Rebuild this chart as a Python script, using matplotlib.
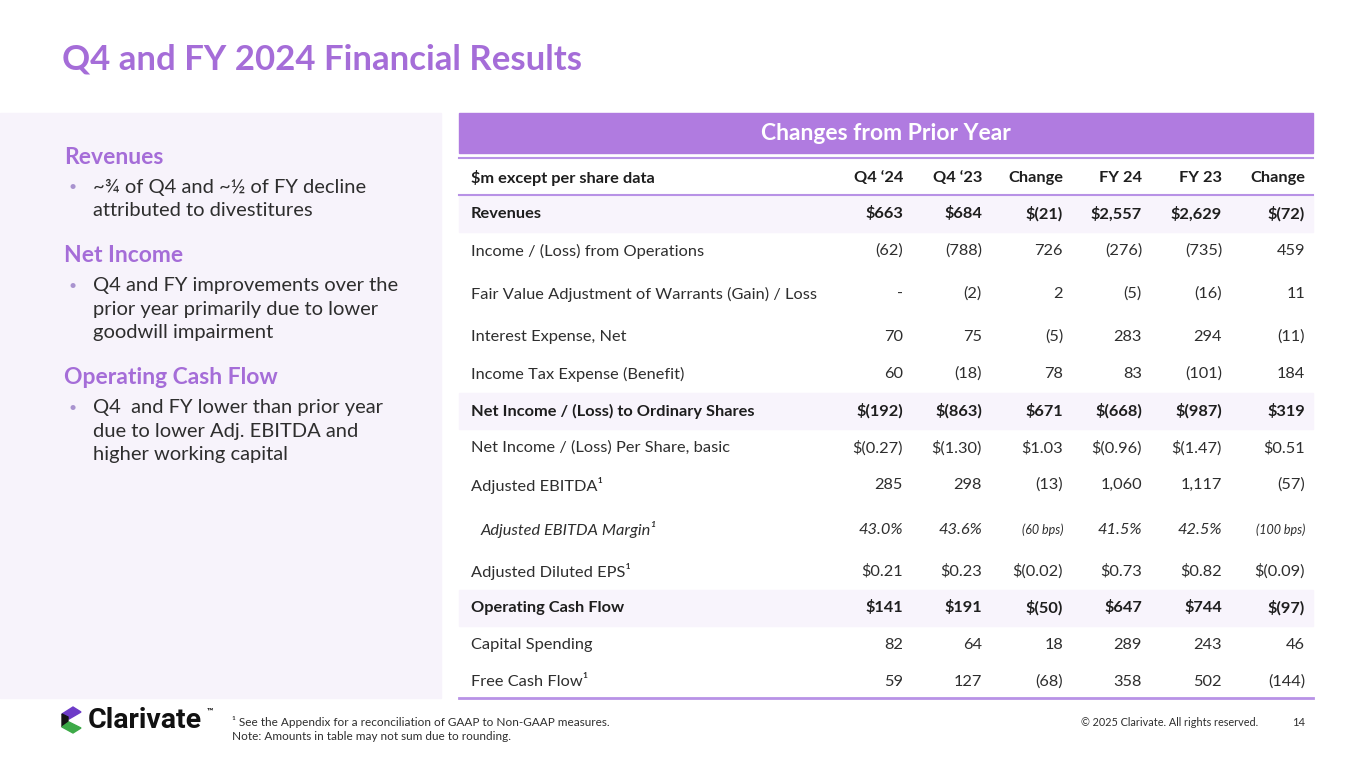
import matplotlib.pyplot as plt
from matplotlib.patches import Rectangle, Polygon

plt.rcParams['font.family'] = ['Lato', 'DejaVu Sans']

# table data
row_labels = ['Revenues', 'Income / (Loss) from Operations',
              'Fair Value Adjustment of Warrants (Gain) / Loss',
              'Interest Expense, Net', 'Income Tax Expense (Benefit)',
              'Net Income / (Loss) to Ordinary Shares',
              'Net Income / (Loss) Per Share, basic',
              'Adjusted EBITDA¹', 'Adjusted EBITDA Margin¹',
              'Adjusted Diluted EPS¹', 'Operating Cash Flow',
              'Capital Spending', 'Free Cash Flow¹']
q4_24 = ['$663', '(62)', '-', '70', '60', '$(192)', '$(0.27)', '285', '43.0%',
         '$0.21', '$141', '82', '59']
q4_23 = ['$684', '(788)', '(2)', '75', '(18)', '$(863)', '$(1.30)', '298', '43.6%',
         '$0.23', '$191', '64', '127']
q4_chg = ['$(21)', '726', '2', '(5)', '78', '$671', '$1.03', '(13)', '(60 bps)',
          '$(0.02)', '$(50)', '18', '(68)']
fy_24 = ['$2,557', '(276)', '(5)', '283', '83', '$(668)', '$(0.96)', '1,060', '41.5%',
         '$0.73', '$647', '289', '358']
fy_23 = ['$2,629', '(735)', '(16)', '294', '(101)', '$(987)', '$(1.47)', '1,117', '42.5%',
         '$0.82', '$744', '243', '502']
fy_chg = ['$(72)', '459', '11', '(11)', '184', '$319', '$0.51', '(57)', '(100 bps)',
          '$(0.09)', '$(97)', '46', '(144)']
col_headers = ['$m except per share data', 'Q4 \u201824', 'Q4 \u201823', 'Change',
               'FY 24', 'FY 23', 'Change']
bold_rows = [0, 5, 10]
italic_rows = [8]

sections = [
    ('Revenues', ['~¾ of Q4 and ~½ of FY decline', 'attributed to divestitures']),
    ('Net Income', ['Q4 and FY improvements over the', 'prior year primarily due to lower',
                    'goodwill impairment']),
    ('Operating Cash Flow', ['Q4  and FY lower than prior year', 'due to lower Adj. EBITDA and',
                             'higher working capital']),
]

PURPLE = '#A56DD8'
BAND = '#B07BE0'
LINE = '#B892E6'
SHADE = '#F8F4FC'
TXT = '#2E2E2E'

fig = plt.figure(figsize=(13.65, 7.66), dpi=100)
ax = fig.add_axes([0, 0, 1, 1])
ax.set_xlim(0, 1365)
ax.set_ylim(766, 0)
ax.axis('off')

ax.text(62, 59, 'Q4 and FY 2024 Financial Results', color=PURPLE, fontsize=25,
        fontweight='bold', va='center', ha='left')

# left panel
ax.add_patch(Rectangle((0, 113), 441, 585, color='#F7F3FB', zorder=0))
y = 157
for head, lines in sections:
    ax.text(64, y, head, color=PURPLE, fontsize=16.5, fontweight='bold', va='center')
    y += 30
    ax.text(68, y, '•', color='#A993CF', fontsize=10, va='center')
    for ln in lines:
        ax.text(93, y, ln, color=TXT, fontsize=14.5, va='center')
        y += 23.5
    y += 21.5

# table
x0, x1 = 459, 1313
ax.add_patch(Rectangle((x0, 113), x1 - x0, 40, color=BAND, zorder=1))
ax.text((x0 + x1) / 2, 133, 'Changes from Prior Year', color='white', fontsize=16.5,
        fontweight='bold', ha='center', va='center')
ax.plot([x0, x1], [158, 158], color=LINE, lw=1.5)
ax.plot([x0, x1], [195, 195], color=LINE, lw=1.5)
ax.plot([x0, x1], [698, 698], color=LINE, lw=2)

col_x = [471, 903, 982, 1063, 1142, 1222, 1305]
for i, h in enumerate(col_headers):
    ax.text(col_x[i], 178, h, fontsize=11.8, fontweight='bold', color='#1E1E1E',
            ha='left' if i == 0 else 'right', va='center')

row_y = [214, 251, 294, 337, 374, 411, 448, 485, 530, 571, 608, 645, 682]
columns = [q4_24, q4_23, q4_chg, fy_24, fy_23, fy_chg]
for r, lab in enumerate(row_labels):
    yy = row_y[r]
    bold = r in bold_rows
    ital = r in italic_rows
    if bold:
        ax.add_patch(Rectangle((x0, yy - 18), x1 - x0, 36, color=SHADE, zorder=0.5))
    fw = 'bold' if bold else 'normal'
    fs = 'italic' if ital else 'normal'
    col = '#1E1E1E' if bold else TXT
    ax.text(col_x[0] + (10 if ital else 0), yy, lab, fontsize=11.8, fontweight=fw,
            fontstyle=fs, color=col, va='center')
    for c, vals in enumerate(columns):
        size = 9 if ital and c in (2, 5) else 11.8
        ax.text(col_x[c + 1], yy, vals[r], fontsize=size, fontweight=fw, fontstyle=fs,
                color=col, ha='right', va='center')

# footer logo
ax.add_patch(Polygon([[62, 714], [73, 707], [81, 712], [69, 719]], color='#6E3CC8'))
ax.add_patch(Polygon([[62, 714], [68, 717], [68, 724], [62, 727]], color='#151515'))
ax.add_patch(Polygon([[62, 727], [69, 722], [81, 728], [73, 733]], color='#3DAA48'))
ax.text(88, 721, 'Clarivate', fontsize=20.5, fontweight='bold', color='#111111',
        va='center', family=['Roboto', 'DejaVu Sans'])
ax.text(207, 711, '™', fontsize=6, fontweight='bold', color='#111111', va='center')

ax.text(232, 722, '¹ See the Appendix for a reconciliation of GAAP to Non-GAAP measures.',
        fontsize=8.5, color=TXT, va='center')
ax.text(232, 737, 'Note: Amounts in table may not sum due to rounding.',
        fontsize=8.5, color=TXT, va='center')
ax.text(1258, 722, '© 2025 Clarivate. All rights reserved.', fontsize=7.8,
        color=TXT, ha='right', va='center')
ax.text(1305, 722, '14', fontsize=8, color=TXT, ha='right', va='center')

fig.savefig('out.png', dpi=100)
